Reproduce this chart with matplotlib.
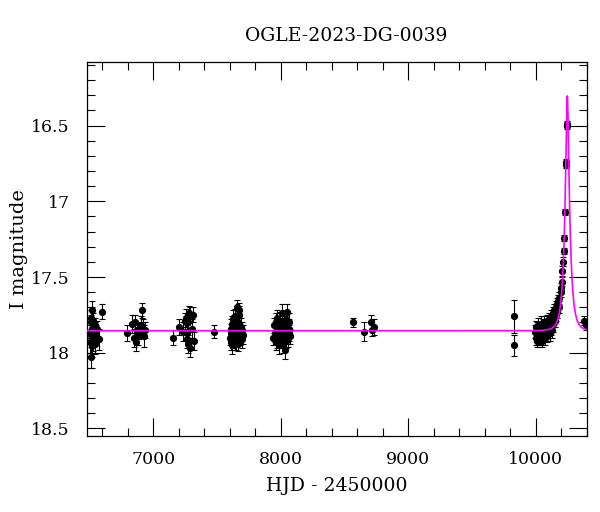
import numpy as np
import matplotlib
matplotlib.use("Agg")
import matplotlib.pyplot as plt
from matplotlib.ticker import MultipleLocator

title = "OGLE-2023-DG-0039"
xlabel = "HJD - 2450000"
ylabel = "I magnitude"

# season data (HJD-2450000, I mag, error)
hjd_a = [6503, 6506, 6509, 6511, 6513, 6515, 6517, 6519, 6520, 6522, 6524, 6526, 6528, 6530, 6533, 6536, 6539, 6542, 6546, 6551, 6557, 6577, 6595]
mag_a = [17.86, 17.93, 17.80, 18.03, 17.88, 17.77, 17.95, 17.84, 17.72, 17.90, 17.83, 17.87, 17.79, 17.92, 17.85, 17.89, 17.82, 17.94, 17.86, 17.88, 17.84, 17.91, 17.73]
err_a = [0.06, 0.07, 0.05, 0.07, 0.06, 0.05, 0.08, 0.05, 0.06, 0.07, 0.05, 0.06, 0.05, 0.07, 0.06, 0.06, 0.05, 0.07, 0.06, 0.06, 0.05, 0.07, 0.05]

hjd_b = [6790, 6836, 6845, 6856, 6861, 6870, 6882, 6891, 6900, 6909, 6916, 6924, 6935]
mag_b = [17.87, 17.81, 17.90, 17.80, 17.93, 17.85, 17.88, 17.86, 17.82, 17.72, 17.84, 17.89, 17.85]
err_b = [0.05, 0.06, 0.06, 0.05, 0.06, 0.05, 0.07, 0.05, 0.06, 0.05, 0.06, 0.07, 0.05]

hjd_c = [7152, 7204, 7235, 7245, 7258, 7262, 7266, 7274, 7276, 7280, 7287, 7290, 7300, 7313, 7316]
mag_c = [17.90, 17.83, 17.86, 17.79, 17.77, 17.87, 17.91, 17.94, 17.80, 17.74, 17.97, 17.75, 17.84, 17.75, 17.92]
err_c = [0.05, 0.05, 0.06, 0.05, 0.06, 0.05, 0.06, 0.06, 0.05, 0.05, 0.06, 0.05, 0.06, 0.05, 0.06]

hjd_d = [7476]
mag_d = [17.86]
err_d = [0.04]

hjd_e = [7603, 7606, 7610, 7613, 7617, 7620, 7623, 7626, 7628, 7631, 7634, 7636, 7639, 7641, 7644, 7646, 7649, 7651, 7654, 7656, 7659, 7661, 7664, 7666, 7669, 7671, 7674, 7677, 7680, 7684, 7688, 7693, 7698, 7703]
mag_e = [17.90, 17.84, 17.93, 17.87, 17.81, 17.95, 17.86, 17.78, 17.91, 17.84, 17.88, 17.80, 17.93, 17.86, 17.76, 17.89, 17.83, 17.92, 17.79, 17.87, 17.70, 17.85, 17.94, 17.82, 17.88, 17.75, 17.72, 17.86, 17.90, 17.83, 17.87, 17.91, 17.85, 17.88]
err_e = [0.05, 0.06, 0.05, 0.06, 0.05, 0.06, 0.05, 0.06, 0.06, 0.05, 0.06, 0.05, 0.05, 0.06, 0.05, 0.06, 0.05, 0.06, 0.05, 0.06, 0.05, 0.06, 0.05, 0.06, 0.05, 0.06, 0.05, 0.06, 0.05, 0.06, 0.05, 0.06, 0.05, 0.06]

hjd_f = [7935, 7948, 7958, 7962, 7965, 7968, 7971, 7974, 7977, 7980, 7983, 7986, 7989, 7992, 7995, 7998, 8001, 8004, 8007, 8010, 8013, 8016, 8019, 8022, 8025, 8028, 8031, 8034, 8037, 8040, 8043, 8046, 8049, 8052, 8055, 8058, 8061, 8064, 8068, 8072]
mag_f = [17.90, 17.82, 17.87, 17.93, 17.80, 17.86, 17.91, 17.77, 17.88, 17.84, 17.95, 17.82, 17.89, 17.86, 17.79, 17.92, 17.85, 17.88, 17.74, 17.90, 17.83, 17.87, 17.94, 17.81, 17.86, 17.89, 17.98, 17.84, 17.78, 17.92, 17.86, 17.73, 17.88, 17.83, 17.90, 17.85, 17.80, 17.87, 17.84, 17.89]
err_f = [0.05, 0.05, 0.06, 0.05, 0.06, 0.05, 0.06, 0.05, 0.06, 0.05, 0.06, 0.05, 0.06, 0.05, 0.06, 0.05, 0.06, 0.05, 0.06, 0.05, 0.06, 0.05, 0.06, 0.05, 0.06, 0.05, 0.06, 0.05, 0.06, 0.05, 0.06, 0.05, 0.06, 0.05, 0.06, 0.05, 0.06, 0.05, 0.06, 0.05]

hjd_g = [8568, 8652, 8704, 8712, 8733]
mag_g = [17.80, 17.86, 17.80, 17.85, 17.83]
err_g = [0.03, 0.06, 0.05, 0.04, 0.05]

hjd_h = [9828, 9828]
mag_h = [17.76, 17.95]
err_h = [0.11, 0.07]

hjd_i = [9995, 9999, 10003, 10006, 10010, 10013, 10017, 10020, 10024, 10027,
         10031, 10034, 10038, 10041, 10045, 10048, 10052, 10055, 10059, 10062,
         10066, 10069, 10073, 10076, 10080, 10083, 10087, 10090, 10094, 10097,
         10101, 10105, 10108, 10112, 10116, 10120, 10124, 10128, 10132, 10136,
         10140, 10145, 10150, 10155, 10160, 10165, 10170, 10175, 10180, 10185]
mag_i = [17.86, 17.90, 17.83, 17.88, 17.92, 17.85, 17.89, 17.82, 17.91, 17.87,
         17.84, 17.90, 17.86, 17.81, 17.89, 17.85, 17.92, 17.83, 17.88, 17.86,
         17.80, 17.87, 17.84, 17.90, 17.82, 17.86, 17.79, 17.88, 17.83, 17.85,
         17.78, 17.84, 17.81, 17.87, 17.76, 17.83, 17.80, 17.85, 17.74, 17.81,
         17.77, 17.72, 17.79, 17.70, 17.75, 17.68, 17.73, 17.66, 17.70, 17.64]
err_i = [0.04, 0.05, 0.04, 0.05, 0.04, 0.05, 0.04, 0.05, 0.04, 0.05,
         0.04, 0.05, 0.04, 0.05, 0.04, 0.05, 0.04, 0.05, 0.04, 0.05,
         0.04, 0.05, 0.04, 0.05, 0.04, 0.05, 0.04, 0.05, 0.04, 0.05,
         0.04, 0.05, 0.04, 0.05, 0.04, 0.05, 0.04, 0.05, 0.04, 0.05,
         0.04, 0.04, 0.04, 0.04, 0.04, 0.04, 0.04, 0.04, 0.04, 0.04]

hjd_j = [10196, 10201, 10206, 10209, 10215, 10220, 10221, 10228, 10237, 10239, 10245, 10247]
mag_j = [17.60, 17.57, 17.53, 17.46, 17.40, 17.33, 17.24, 17.07, 16.74, 16.76, 16.49, 16.50]
err_j = [0.03, 0.03, 0.03, 0.03, 0.03, 0.02, 0.02, 0.02, 0.02, 0.02, 0.02, 0.02]

hjd_k = [10380, 10392]
mag_k = [17.79, 17.82]
err_k = [0.03, 0.03]

# point-lens model parameters
t0, tE, u0, fs, I0 = 10247.0, 40.0, 0.245, 1.0, 17.855

hjd = np.concatenate([hjd_a, hjd_b, hjd_c, hjd_d, hjd_e, hjd_f, hjd_g, hjd_h, hjd_i, hjd_j, hjd_k])
mag = np.concatenate([mag_a, mag_b, mag_c, mag_d, mag_e, mag_f, mag_g, mag_h, mag_i, mag_j, mag_k])
err = np.concatenate([err_a, err_b, err_c, err_d, err_e, err_f, err_g, err_h, err_i, err_j, err_k])

tm = np.linspace(6480, 10400, 6000)
u = np.sqrt(u0**2 + ((tm - t0) / tE)**2)
A = (u**2 + 2) / (u * np.sqrt(u**2 + 4))
model = I0 - 2.5 * np.log10(fs * A + 1 - fs)

plt.rcParams['font.family'] = ['DejaVu Serif']
fig = plt.figure(figsize=(6.0, 5.12), dpi=100)
ax = fig.add_axes([0.145, 0.1484, 0.833, 0.7305])

ax.errorbar(hjd, mag, yerr=err, fmt='o', color='black', ms=4.2, elinewidth=0.8,
            capsize=2.3, capthick=0.8, ecolor='black', zorder=2)
ax.plot(tm, model, color='#ff00ff', lw=1.2, zorder=3)

ax.set_xlim(6480, 10400)
ax.set_ylim(18.55, 16.08)
ax.xaxis.set_major_locator(MultipleLocator(1000))
ax.xaxis.set_minor_locator(MultipleLocator(200))
ax.yaxis.set_major_locator(MultipleLocator(0.5))
ax.yaxis.set_minor_locator(MultipleLocator(0.1))
ax.yaxis.set_major_formatter(plt.FuncFormatter(lambda v, p: f"{v:g}"))
ax.tick_params(which='both', direction='in', top=True, right=True, width=0.8)
ax.tick_params(which='major', length=13, labelsize=12.5)
ax.tick_params(axis='x', which='major', pad=11)
ax.tick_params(axis='y', which='major', pad=12.5)
ax.tick_params(which='minor', length=6)
for s in ax.spines.values():
    s.set_linewidth(0.9)

ax.set_xlabel(xlabel, fontsize=13.5, labelpad=6)
ax.set_ylabel(ylabel, fontsize=14)
ax.yaxis.set_label_coords(-0.118, 0.5)
fig.text(0.577, 0.93, title, ha='center', va='center', fontsize=13.5)

fig.savefig("out.png", dpi=100)
